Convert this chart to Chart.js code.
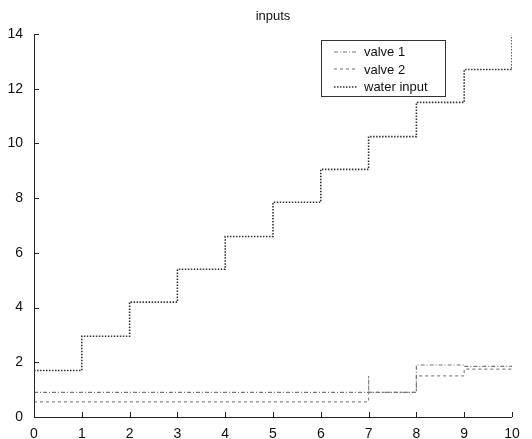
<!DOCTYPE html>
<html>
<head>
<meta charset="utf-8">
<script src="https://cdn.jsdelivr.net/npm/chart.js@4/dist/chart.umd.min.js"></script>
<style>
    html, body { margin: 0; padding: 0; background: #fff; }
    #wrap { position: relative; width: 532px; height: 439px; }
    #legend {
        position: absolute; left: 321px; top: 40px; width: 125px; height: 57px;
        border: 1px solid #333; background: #fff; box-sizing: border-box;
        font-family: "Liberation Sans", Arial, sans-serif; font-size: 13px; color: #111;
        padding-top: 2px;
    }
    .row { display: flex; align-items: center; height: 17.5px; }
    .row canvas { margin-left: 12px; margin-right: 6px; }
</style>
</head>
<body>
<div id="wrap">
    <canvas id="chart" width="532" height="439"></canvas>
    <div id="legend"></div>
</div>
<script>
// step series as (x, y) corner points
const waterX = [0, 1, 1, 2, 2, 3, 3, 4, 4, 5, 5, 6, 6, 7, 7, 8, 8, 9, 9, 10, 10];
const waterY = [1.7, 1.7, 2.95, 2.95, 4.2, 4.2, 5.4, 5.4, 6.6, 6.6, 7.85, 7.85, 9.05, 9.05, 10.25, 10.25, 11.5, 11.5, 12.7, 12.7, 13.95];

const valve1X = [0, 8, 8, 9, 9, 10];
const valve1Y = [0.9, 0.9, 1.9, 1.9, 1.85, 1.85];

const valve2X = [0, 7, 7, 7, 8, 8, 9, 9, 10];
const valve2Y = [0.55, 0.55, 1.5, 0.9, 0.9, 1.5, 1.5, 1.75, 1.75];

const xTicks = [0, 1, 2, 3, 4, 5, 6, 7, 8, 9, 10];
const yTicks = [0, 2, 4, 6, 8, 10, 12, 14];

const seriesStyle = [
    { label: "valve 1", color: "#777", dash: [4, 2, 1, 2], width: 1.2 },
    { label: "valve 2", color: "#888", dash: [3, 3], width: 1.2 },
    { label: "water input", color: "#333", dash: [1.5, 1.5], width: 1.6 }
];

function toPoints(xs, ys) {
    return xs.map((x, i) => ({ x: x, y: ys[i] }));
}

const seriesData = [toPoints(valve1X, valve1Y), toPoints(valve2X, valve2Y), toPoints(waterX, waterY)];

const innerTicks = {
    id: "innerTicks",
    afterDraw(chart) {
        const ctx = chart.ctx;
        const xs = chart.scales.x, ys = chart.scales.y;
        const a = chart.chartArea;
        ctx.save();
        ctx.strokeStyle = "#222";
        ctx.lineWidth = 1;
        ctx.beginPath();
        ctx.moveTo(a.left + 0.5, a.top);
        ctx.lineTo(a.left + 0.5, a.bottom + 0.5);
        ctx.lineTo(a.right, a.bottom + 0.5);
        for (const v of xTicks) {
            const p = Math.round(xs.getPixelForValue(v)) + 0.5;
            ctx.moveTo(p, a.bottom);
            ctx.lineTo(p, a.bottom - 5);
        }
        for (const v of yTicks) {
            const p = Math.round(ys.getPixelForValue(v)) + 0.5;
            ctx.moveTo(a.left, p);
            ctx.lineTo(a.left + 5, p);
        }
        ctx.stroke();
        ctx.restore();
    }
};

new Chart(document.getElementById("chart").getContext("2d"), {
    type: "line",
    data: {
        datasets: seriesStyle.map((s, i) => ({
            label: s.label,
            data: seriesData[i],
            borderColor: s.color,
            borderDash: s.dash,
            borderWidth: s.width,
            pointRadius: 0,
            fill: false,
            tension: 0
        }))
    },
    options: {
        animation: false,
        responsive: false,
        layout: { padding: { left: 0, right: 20, top: 0, bottom: 0 } },
        plugins: {
            legend: { display: false },
            tooltip: { enabled: false },
            title: {
                display: true,
                fullSize: false,
                text: "inputs",
                color: "#111",
                font: { family: "Liberation Sans", size: 13, weight: "normal" },
                padding: { top: 9, bottom: 9.4 }
            }
        },
        scales: {
            x: {
                type: "linear",
                min: 0,
                max: 10,
                border: { display: false },
                grid: { display: false },
                afterFit(scale) { scale.height = 22; },
                afterBuildTicks(scale) { scale.ticks = xTicks.map(v => ({ value: v })); },
                ticks: {
                    color: "#111",
                    padding: 1,
                    maxRotation: 0,
                    font: { family: "Liberation Sans", size: 14 }
                }
            },
            y: {
                type: "linear",
                min: 0,
                max: 14,
                border: { display: false },
                grid: { display: false },
                afterFit(scale) { scale.width = 34; },
                afterBuildTicks(scale) { scale.ticks = yTicks.map(v => ({ value: v })); },
                ticks: {
                    color: "#111",
                    padding: 3,
                    font: { family: "Liberation Sans", size: 14 }
                }
            }
        }
    },
    plugins: [innerTicks]
});

// legend box inside the axes
const legendEl = document.getElementById("legend");
for (const s of seriesStyle) {
    const row = document.createElement("div");
    row.className = "row";
    const c = document.createElement("canvas");
    c.width = 24;
    c.height = 4;
    const g = c.getContext("2d");
    g.strokeStyle = s.color;
    g.lineWidth = s.width;
    g.setLineDash(s.dash);
    g.beginPath();
    g.moveTo(0, 2);
    g.lineTo(24, 2);
    g.stroke();
    const span = document.createElement("span");
    span.textContent = s.label;
    row.appendChild(c);
    row.appendChild(span);
    legendEl.appendChild(row);
}
</script>
</body>
</html>
